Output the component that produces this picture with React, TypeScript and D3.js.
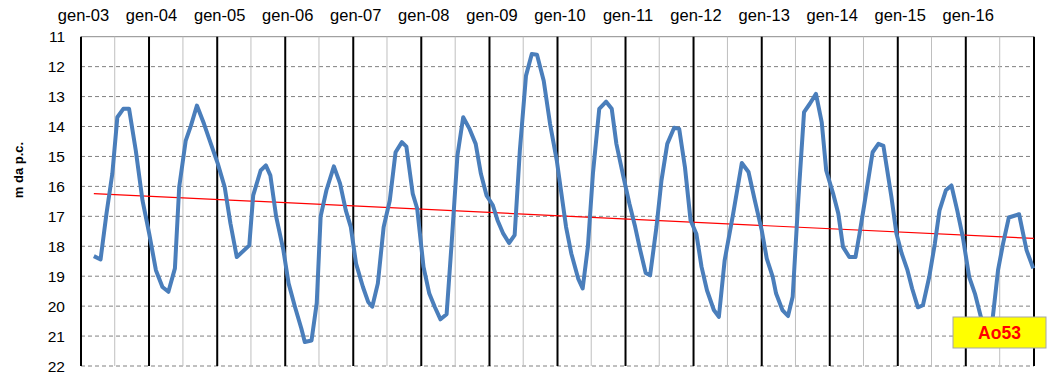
import React from "react";
import * as d3 from "d3";

const dates: string[] = [
  "2003-03-11","2003-04-16","2003-05-18","2003-06-18","2003-07-15","2003-08-16","2003-09-16","2003-10-22","2003-11-27",
  "2004-01-02","2004-02-07","2004-03-13","2004-04-14","2004-05-19","2004-06-11","2004-07-16","2004-08-13","2004-09-14","2004-10-22","2004-11-28",
  "2005-01-04","2005-02-10","2005-03-13","2005-04-16","2005-06-22","2005-07-13","2005-08-22","2005-09-19","2005-10-13","2005-11-13","2005-12-22",
  "2006-01-19","2006-02-22","2006-03-28","2006-04-16","2006-05-22","2006-06-19","2006-07-10","2006-08-10","2006-09-19","2006-10-22","2006-11-22","2006-12-19",
  "2007-01-16","2007-02-22","2007-03-22","2007-04-13","2007-05-13","2007-06-13","2007-07-16","2007-08-16","2007-09-19","2007-10-13","2007-11-16","2007-12-10",
  "2008-01-13","2008-02-13","2008-03-13","2008-04-13","2008-05-16","2008-06-13","2008-07-13","2008-08-13","2008-09-16","2008-10-19","2008-11-16","2008-12-16",
  "2009-01-19","2009-02-13","2009-03-16","2009-04-16","2009-05-16","2009-06-13","2009-07-16","2009-08-16","2009-09-13","2009-10-19","2009-11-22","2009-12-28",
  "2010-02-16","2010-03-16","2010-04-22","2010-05-16","2010-06-13","2010-07-10","2010-08-13","2010-09-19","2010-10-19","2010-11-13","2010-12-19",
  "2011-01-22","2011-02-22","2011-03-19","2011-04-19","2011-05-13","2011-06-16","2011-07-13","2011-08-13","2011-09-19","2011-10-16","2011-11-16","2011-12-16",
  "2012-01-16","2012-02-13","2012-03-13","2012-04-19","2012-05-16","2012-06-16","2012-08-01","2012-09-16","2012-10-22","2012-11-25",
  "2013-01-01","2013-01-28","2013-03-01","2013-03-19","2013-04-22","2013-05-22","2013-06-16","2013-07-16","2013-08-16","2013-09-16","2013-10-19","2013-11-19","2013-12-13",
  "2014-01-19","2014-02-16","2014-03-13","2014-04-16","2014-05-19","2014-06-10","2014-07-16","2014-08-19","2014-09-19","2014-10-16","2014-11-28","2014-12-25",
  "2015-01-22","2015-02-22","2015-03-19","2015-04-19","2015-05-16","2015-06-19","2015-07-19","2015-08-13","2015-09-16","2015-10-16","2015-11-16","2015-12-16",
  "2016-01-19","2016-02-19","2016-03-22","2016-04-19","2016-05-25","2016-06-22","2016-07-19","2016-08-19","2016-10-13","2016-11-22","2016-12-28",
];

const depths: number[] = [
  18.33,18.44,16.9,15.58,13.69,13.41,13.41,14.8,16.47,
  17.58,18.8,19.36,19.52,18.74,16.02,14.47,13.97,13.3,13.91,14.58,
  15.24,16.02,17.24,18.36,17.97,16.3,15.47,15.3,15.63,17.0,18.13,
  19.24,20.02,20.74,21.2,21.15,19.9,17.0,16.13,15.33,15.9,16.8,17.36,
  18.58,19.36,19.86,20.02,19.24,17.36,16.47,14.86,14.52,14.67,16.24,16.74,
  18.69,19.58,20.02,20.44,20.27,17.8,14.97,13.69,14.08,14.58,15.58,16.3,
  16.63,17.13,17.58,17.89,17.63,14.8,12.3,11.58,11.6,12.47,13.91,15.13,
  17.36,18.24,19.08,19.41,18.02,15.58,13.41,13.17,13.41,14.58,15.63,
  16.58,17.36,18.08,18.89,18.97,17.36,15.8,14.58,14.04,14.08,15.36,17.13,
  17.58,18.69,19.47,20.13,20.36,18.47,16.9,15.22,15.52,16.47,
  17.47,18.41,19.02,19.58,20.13,20.33,19.69,16.47,13.52,13.24,12.91,13.86,15.47,
  16.24,16.91,18.02,18.36,18.36,17.58,16.19,14.86,14.58,14.65,16.36,17.58,
  18.24,18.8,19.41,20.04,19.97,19.02,17.91,16.8,16.13,15.97,16.8,17.69,
  19.02,19.58,20.36,20.9,20.36,18.8,17.91,17.04,16.93,18.13,18.74,
];

const trendDates: string[] = ["2003-03-11", "2017-01-01"];
const trendValues: number[] = [16.24, 17.74];

const yTicks: number[] = [11, 12, 13, 14, 15, 16, 17, 18, 19, 20, 21, 22];
const yearLabels: string[] = ["gen-03","gen-04","gen-05","gen-06","gen-07","gen-08","gen-09","gen-10","gen-11","gen-12","gen-13","gen-14","gen-15","gen-16"];
const yearStarts: number[] = [2003,2004,2005,2006,2007,2008,2009,2010,2011,2012,2013,2014,2015,2016,2017];
const wellName = "Ao53";
const yTitle = "m da p.c.";

export default function App() {
  const W = 1051, H = 377;
  const left = 81, right = 1034, top = 36.7, bottom = 366;
  const parse = d3.timeParse("%Y-%m-%d");
  const x = d3.scaleTime().domain([new Date(2003, 0, 1), new Date(2017, 0, 1)]).range([left, right]);
  const y = d3.scaleLinear().domain([11, 22]).range([top, bottom]);
  const pts = dates.map((d, i) => [parse(d) as Date, depths[i]] as [Date, number]);
  const line = d3.line<[Date, number]>().x(d => x(d[0])).y(d => y(d[1]));
  const trend = trendDates.map((d, i) => [parse(d) as Date, trendValues[i]] as [Date, number]);
  const font = "'Liberation Sans', Arial, sans-serif";

  return (
    <svg width={W} height={H} style={{ position: "absolute", left: 0, top: 0, background: "#fff" }}>
      <rect x={0} y={0} width={W} height={H} fill="#fff" />
      {/* horizontal dashed gridlines */}
      {yTicks.map(t => (
        t === 11 ? (
          <line key={t} x1={left} x2={right} y1={y(t)} y2={y(t)} stroke="#8c8c8c" strokeWidth={1} />
        ) : (
          <line key={t} x1={left} x2={right} y1={y(t)} y2={y(t)} stroke="#808080" strokeWidth={1} strokeDasharray="4,3" />
        )
      ))}
      {/* mid-year gray lines */}
      {yearStarts.slice(0, -1).map(yr => (
        <line key={"m" + yr} x1={x(new Date(yr, 6, 1))} x2={x(new Date(yr, 6, 1))} y1={top} y2={bottom} stroke="#bfbfbf" strokeWidth={1} />
      ))}
      {/* year boundaries */}
      {yearStarts.map(yr => (
        <line key={"y" + yr} x1={x(new Date(yr, 0, 1))} x2={x(new Date(yr, 0, 1))} y1={top} y2={bottom} stroke="#000" strokeWidth={2} />
      ))}
      {/* trend */}
      <path d={line(trend) || ""} fill="none" stroke="#ff0000" strokeWidth={1.2} />
      {/* series */}
      <path d={line(pts) || ""} fill="none" stroke="#4a7ebb" strokeWidth={4} strokeLinejoin="round" />
      {/* y tick labels */}
      {yTicks.map(t => (
        <text key={"t" + t} x={65} y={y(t)} textAnchor="end" dominantBaseline="central" fontFamily={font} fontSize={15.5} fill="#000">{t}</text>
      ))}
      {/* x labels at top */}
      {yearLabels.map((lab, i) => (
        <text key={lab} x={x(new Date(yearStarts[i], 0, 1)) + 2.5} y={21} textAnchor="middle" fontFamily={font} fontSize={16.5} fill="#000">{lab}</text>
      ))}
      {/* y title */}
      <text transform={`translate(23,170) rotate(-90)`} textAnchor="middle" fontFamily={font} fontSize={13} fontWeight="bold" fill="#000">{yTitle}</text>
      {/* well label */}
      <rect x={953} y={317} width={93} height={31} fill="#ffff00" stroke="#a6a6a6" strokeWidth={1} />
      <text x={999.5} y={338.5} textAnchor="middle" fontFamily={font} fontSize={17.5} fontWeight="bold" fill="#ff0000">{wellName}</text>
    </svg>
  );
}
